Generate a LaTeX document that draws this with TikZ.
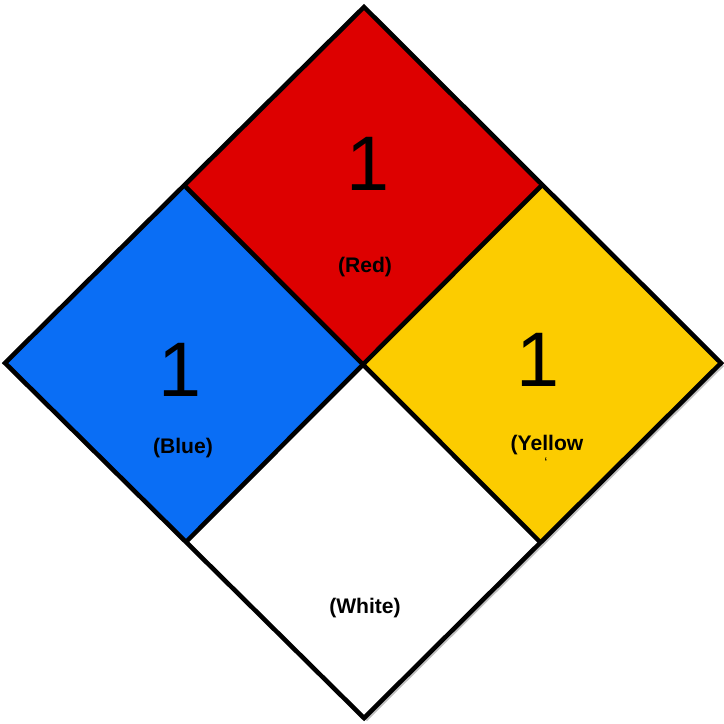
\documentclass[tikz,border=0pt]{standalone}
\usepackage{fontspec}
\setmainfont{Liberation Sans}
\usetikzlibrary{positioning}

\definecolor{hazardred}{RGB}{221,0,0}
\definecolor{hazardblue}{RGB}{10,110,245}
\definecolor{hazardyellow}{RGB}{252,204,0}

\begin{document}
\begin{tikzpicture}[x=0.01cm,y=-0.01cm]
        % Setup the styles for the squares and texts
        \tikzset{square style/.style={line width=1.3pt, draw=black, line join=miter},
                 number style/.style={inner sep=0pt, font=\fontsize{22}{22}\selectfont},
                 label style/.style={inner sep=0pt, font=\bfseries\fontsize{6}{7}\selectfont}}
        \useasboundingbox (0,0) rectangle (724,723);

        % Corners of the diamond
        \coordinate (top) at (364,7);
        \coordinate (left) at (5,363);
        \coordinate (right) at (721,363);
        \coordinate (bottom) at (364,718);
        \coordinate (ctr) at (363,364);
        \coordinate (nw) at (185,186);
        \coordinate (ne) at (541,186);
        \coordinate (sw) at (186,542);
        \coordinate (se) at (541,543);

        % Shadow
        \fill[black, opacity=0.25] ([shift={(3,3)}]top) -- ([shift={(3,3)}]right)
            -- ([shift={(3,3)}]bottom) -- ([shift={(3,3)}]left) -- cycle;

        % Draw the squares
        \fill[hazardred] (top) -- (ne) -- (ctr) -- (nw) -- cycle;
        \fill[hazardblue] (nw) -- (ctr) -- (sw) -- (left) -- cycle;
        \fill[hazardyellow] (ne) -- (right) -- (se) -- (ctr) -- cycle;
        \fill[white] (ctr) -- (se) -- (bottom) -- (sw) -- cycle;
        \draw[square style] (top) -- (right) -- (bottom) -- (left) -- cycle;
        \draw[square style] (nw) -- (se);
        \draw[square style] (ne) -- (sw);

        % Numbers and labels
        \node[number style] at (368,164) (rednum)    {1};
        \node[label style]  at (365,267) (redlab)    {(Red)};
        \node[number style] at (180,370) (bluenum)   {1};
        \node[label style]  at (183,448) (bluelab)   {(Blue)};
        \node[number style] at (538,360) (yellownum) {1};
        \node[label style]  at (547,445) (yellowlab) {(Yellow};
        \node[inner sep=0pt, font=\fontsize{4}{4}\selectfont] at (546,463) (yellowmark) {`};
        \node[label style]  at (365,608) (whitelab)  {(White)};
\end{tikzpicture}
\end{document}
